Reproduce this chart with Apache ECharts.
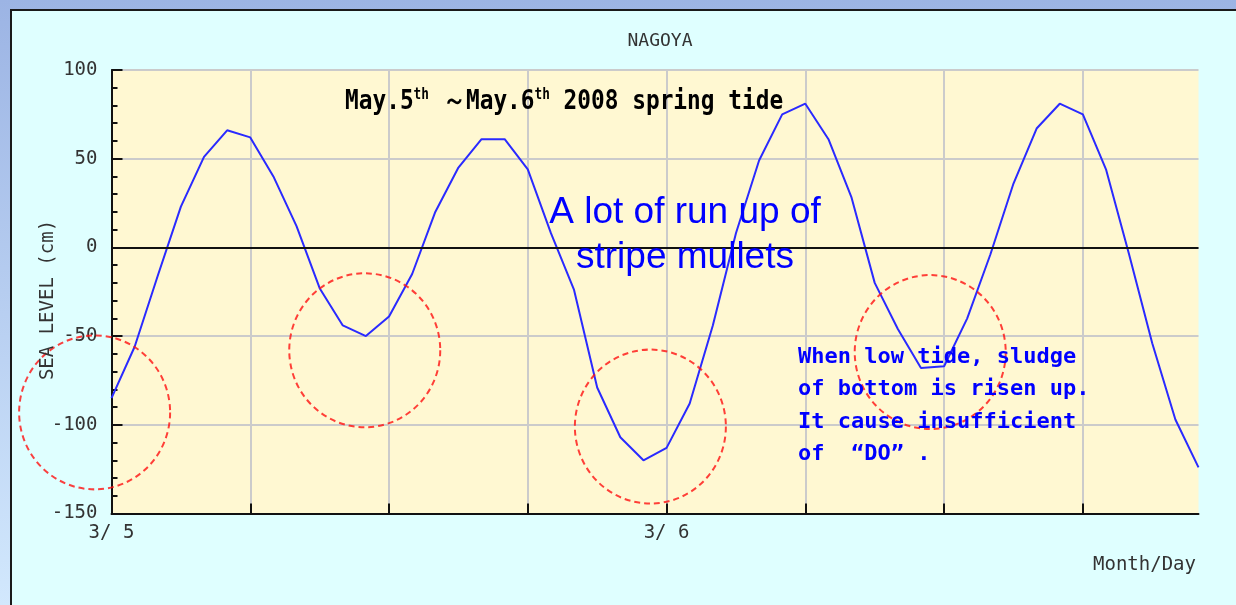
<!DOCTYPE html>
<html>
<head>
<meta charset="utf-8">
<script src="https://cdn.jsdelivr.net/npm/echarts@6/dist/echarts.min.js"></script>
<style>
html, body { margin: 0; padding: 0; }
body { width: 1236px; height: 605px; overflow: hidden; position: relative;
       background: linear-gradient(#9cb4e4, #d2e8fd); }
#frame { position: absolute; left: 10px; top: 9px; width: 1240px; height: 610px;
         border-left: 2px solid #1a1a1a; border-top: 2px solid #1a1a1a; background: #dfffff; }
#main { position: absolute; left: 0; top: 0; width: 1236px; height: 605px; }
</style>
</head>
<body>
<div id="frame"></div>
<div id="main"></div>
<script>
// hours from 3/5 00:00
var hours = [0, 1, 2, 3, 4, 5, 6, 7, 8, 9, 10, 11, 12, 13, 14, 15, 16, 17, 18, 19, 20, 21, 22, 23,
             24, 25, 26, 27, 28, 29, 30, 31, 32, 33, 34, 35, 36, 37, 38, 39, 40, 41, 42, 43, 44, 45, 46, 47];
// sea level (cm)
var seaLevel = [-85, -56, -16, 23, 51, 66, 62, 40, 12, -23, -44, -50,
                -39, -15, 20, 45, 61, 61, 44, 8, -24, -79, -107, -120,
                -113, -88, -44, 8, 49, 75, 81, 61, 28, -20, -46, -68,
                -67, -40, -4, 36, 67, 81, 75, 44, -4, -54, -97, -124];
var xTicks = [0, 6, 12, 18, 24, 30, 36, 42];
var xLabels = [0, 24];
var dayNames = ['3/ 5', '3/ 6'];
var yTicks = [-150, -100, -50, 0, 50, 100];
// dashed circles (hour, cm)
var circleX = [-0.73, 10.95, 23.3, 35.4];
var circleY = [-93, -58, -101, -59];

var mono = '"DejaVu Sans Mono", monospace';
var chart = echarts.init(document.getElementById('main'));

var option = {
    animation: false,
    backgroundColor: 'transparent',
    title: {
        text: 'NAGOYA',
        left: 655,
        textAlign: 'center',
        top: 27,
        textStyle: { fontFamily: mono, fontSize: 18, fontWeight: 'normal', color: '#333' }
    },
    grid: {
        left: 111.5, right: 37.5, top: 70, bottom: 91.5,
        show: true, backgroundColor: '#fff8d2', borderWidth: 0
    },
    xAxis: {
        type: 'value',
        min: 0, max: 47,
        axisLine: { onZero: false, lineStyle: { color: '#111', width: 2 } },
        axisTick: { inside: true, length: 10, customValues: xTicks, lineStyle: { color: '#111', width: 2 } },
        axisLabel: {
            customValues: xLabels,
            margin: 10,
            fontFamily: mono, fontSize: 19, color: '#333',
            formatter: function (v) { return dayNames[xLabels.indexOf(v)] || ''; }
        },
        splitLine: { show: true, lineStyle: { color: '#cbcbcb', width: 2 } }
    },
    yAxis: {
        type: 'value',
        min: yTicks[0], max: yTicks[yTicks.length - 1], interval: 50,
        axisLine: { show: true, onZero: false, lineStyle: { color: '#111', width: 2 } },
        axisTick: { inside: true, length: 11, lineStyle: { color: '#111', width: 2 } },
        minorTick: { show: true, splitNumber: 5, length: 6, lineStyle: { color: '#111', width: 2 } },
        axisLabel: { margin: 14, fontFamily: mono, fontSize: 19, color: '#333' },
        splitLine: { show: true, lineStyle: { color: '#cbcbcb', width: 2 } }
    },
    series: [
        {
            type: 'line',
            data: hours.map(function (h, i) { return [h, seaLevel[i]]; }),
            symbol: 'none',
            lineStyle: { color: '#2a2aff', width: 2 },
            emphasis: { disabled: true },
            silent: true,
            z: 3,
            markLine: {
                silent: true,
                symbol: ['none', 'none'],
                label: { show: false },
                lineStyle: { color: '#111', width: 2, type: 'solid' },
                data: [{ yAxis: 0 }]
            }
        },
        {
            type: 'scatter',
            clip: false,
            silent: true,
            z: 4,
            data: circleX.map(function (x, i) { return [x, circleY[i]]; }),
            symbol: 'circle',
            symbolSize: [151, 154],
            itemStyle: { color: 'rgba(0,0,0,0)', borderColor: '#ff1010', borderWidth: 2, borderType: [6, 4] },
            emphasis: { disabled: true }
        }
    ],
    graphic: [
        {
            type: 'text', x: 345, y: 88, scaleX: 1.06, scaleY: 1.25, z: 100,
            style: {
                text: '{a|May.5}{s|th}{a| ～May.6}{s|th}{a| 2008 spring tide}',
                verticalAlign: 'top',
                rich: {
                    a: { fontFamily: mono, fontWeight: 'bold', fontSize: 21.5, fill: '#000', lineHeight: 22 },
                    s: { fontFamily: mono, fontWeight: 'bold', fontSize: 12, fill: '#000', lineHeight: 22, verticalAlign: 'top' }
                }
            }
        },
        {
            type: 'text', x: 685, y: 235.5, z: 100,
            style: {
                text: 'A lot of run up of\nstripe mullets',
                align: 'center', verticalAlign: 'middle', lineHeight: 45,
                font: '37px "Liberation Sans", Arial, sans-serif',
                fill: '#0000ff'
            }
        },
        {
            type: 'text', x: 798, y: 341, z: 100,
            style: {
                text: 'When low tide, sludge\nof bottom is risen up.\nIt cause insufficient\nof  “DO” .',
                verticalAlign: 'top', lineHeight: 32.5,
                font: 'bold 22px "DejaVu Sans Mono", monospace',
                fill: '#0000ff'
            }
        },
        {
            type: 'text', x: 1196, y: 565, z: 100,
            style: {
                text: 'Month/Day', align: 'right', verticalAlign: 'middle',
                font: '19px "DejaVu Sans Mono", monospace', fill: '#333'
            }
        },
        {
            type: 'text', x: 48, y: 300, rotation: Math.PI / 2, z: 100,
            style: {
                text: 'SEA LEVEL (cm)', align: 'center', verticalAlign: 'middle',
                font: '19px "DejaVu Sans Mono", monospace', fill: '#333'
            }
        }
    ]
};

chart.setOption(option);
</script>
</body>
</html>
